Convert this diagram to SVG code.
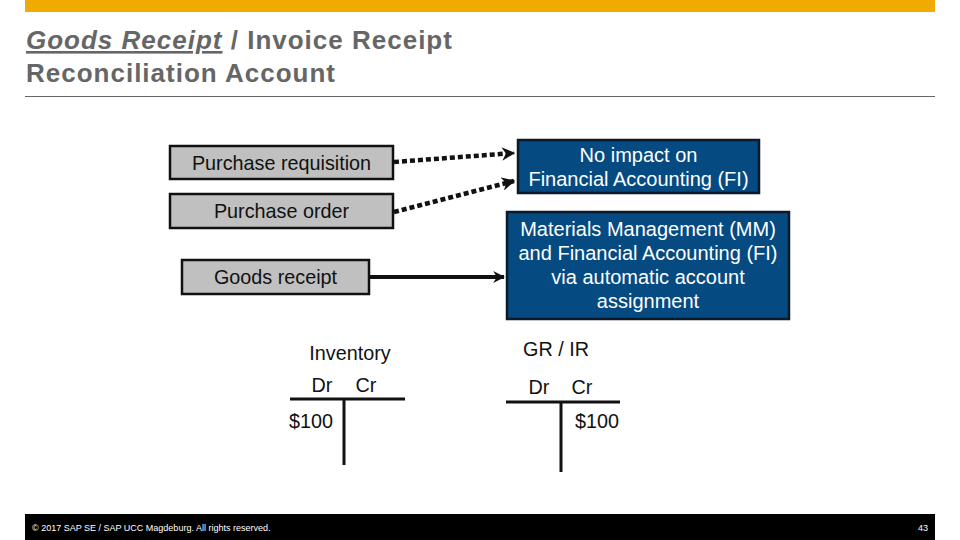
<svg xmlns="http://www.w3.org/2000/svg" width="960" height="540" viewBox="0 0 960 540">
  <style>
    text { font-family: "Liberation Sans", Arial, sans-serif; }
    .title { font-size: 26px; font-weight: bold; fill: #666666; letter-spacing: 1px; }
    .gbox { fill: #C0C0C0; stroke: #111111; stroke-width: 2.5; }
    .bbox { fill: #054A80; stroke: #0B1A2A; stroke-width: 2.5; }
    .gtxt { font-size: 19.8px; fill: #111111; text-anchor: middle; }
    .btxt { font-size: 20px; fill: #FFFFFF; text-anchor: middle; }
    .acc { font-size: 19.8px; fill: #111111; text-anchor: middle; }
    .tline { stroke: #111111; stroke-width: 3; }
    .dot { fill: none; stroke: #111111; stroke-width: 4.5; stroke-dasharray: 5 3; }
    .solid { fill: none; stroke: #111111; stroke-width: 4; }
  </style>
  <defs>
    <marker id="ah" viewBox="0 0 10 10" refX="9" refY="5" markerWidth="3" markerHeight="3" orient="auto" markerUnits="strokeWidth">
      <path d="M0,0 L10,5 L0,10 L3,5 Z" fill="#111111"/>
    </marker>
  </defs>
  <rect x="25" y="0" width="910" height="12" fill="#F0AB00"/>
  <text class="title" x="26" y="49"><tspan font-style="italic" text-decoration="underline">Goods Receipt</tspan> / Invoice Receipt</text>
  <text class="title" x="26" y="82">Reconciliation Account</text>
  <line x1="25" y1="96.5" x2="935" y2="96.5" stroke="#666666" stroke-width="1.2"/>

  <g id="connectors">
    <line class="dot" x1="394" y1="162" x2="514" y2="153" marker-end="url(#ah)"/>
    <line class="dot" x1="394" y1="212" x2="514" y2="181" marker-end="url(#ah)"/>
    <line class="solid" x1="370" y1="277" x2="504" y2="277" marker-end="url(#ah)"/>
  </g>

  <g id="purchase-requisition">
    <rect class="gbox" x="170" y="146" width="223" height="33"/>
    <text class="gtxt" x="281.5" y="170">Purchase requisition</text>
  </g>
  <g id="purchase-order">
    <rect class="gbox" x="170" y="194" width="223" height="34"/>
    <text class="gtxt" x="281.5" y="218">Purchase order</text>
  </g>
  <g id="goods-receipt">
    <rect class="gbox" x="182" y="260" width="187" height="34"/>
    <text class="gtxt" x="275.5" y="284">Goods receipt</text>
  </g>
  <g id="no-impact">
    <rect class="bbox" x="518" y="140" width="241" height="53"/>
    <text class="btxt" x="638.5" y="162">No impact on</text>
    <text class="btxt" x="638.5" y="186">Financial Accounting (FI)</text>
  </g>
  <g id="mm-fi">
    <rect class="bbox" x="507" y="212" width="282" height="107"/>
    <text class="btxt" x="648" y="236">Materials Management (MM)</text>
    <text class="btxt" x="648" y="260">and Financial Accounting (FI)</text>
    <text class="btxt" x="648" y="284">via automatic account</text>
    <text class="btxt" x="648" y="308">assignment</text>
  </g>

  <g id="inventory-account">
    <text class="acc" x="350" y="360">Inventory</text>
    <text class="acc" x="322" y="392">Dr</text>
    <text class="acc" x="366" y="392">Cr</text>
    <line class="tline" x1="290" y1="399" x2="405" y2="399"/>
    <line class="tline" x1="344" y1="399" x2="344" y2="465"/>
    <text class="acc" x="311" y="428">$100</text>
  </g>
  <g id="grir-account">
    <text class="acc" x="556" y="356">GR / IR</text>
    <text class="acc" x="539" y="394">Dr</text>
    <text class="acc" x="582" y="394">Cr</text>
    <line class="tline" x1="506" y1="402" x2="620" y2="402"/>
    <line class="tline" x1="561" y1="402" x2="561" y2="472"/>
    <text class="acc" x="597" y="428">$100</text>
  </g>

  <rect x="25" y="514" width="910" height="26" fill="#000000"/>
  <text x="32" y="531" font-size="9" fill="#FFFFFF">© 2017 SAP SE / SAP UCC Magdeburg. All rights reserved.</text>
  <text x="928" y="531" font-size="9" fill="#FFFFFF" text-anchor="end">43</text>
</svg>
